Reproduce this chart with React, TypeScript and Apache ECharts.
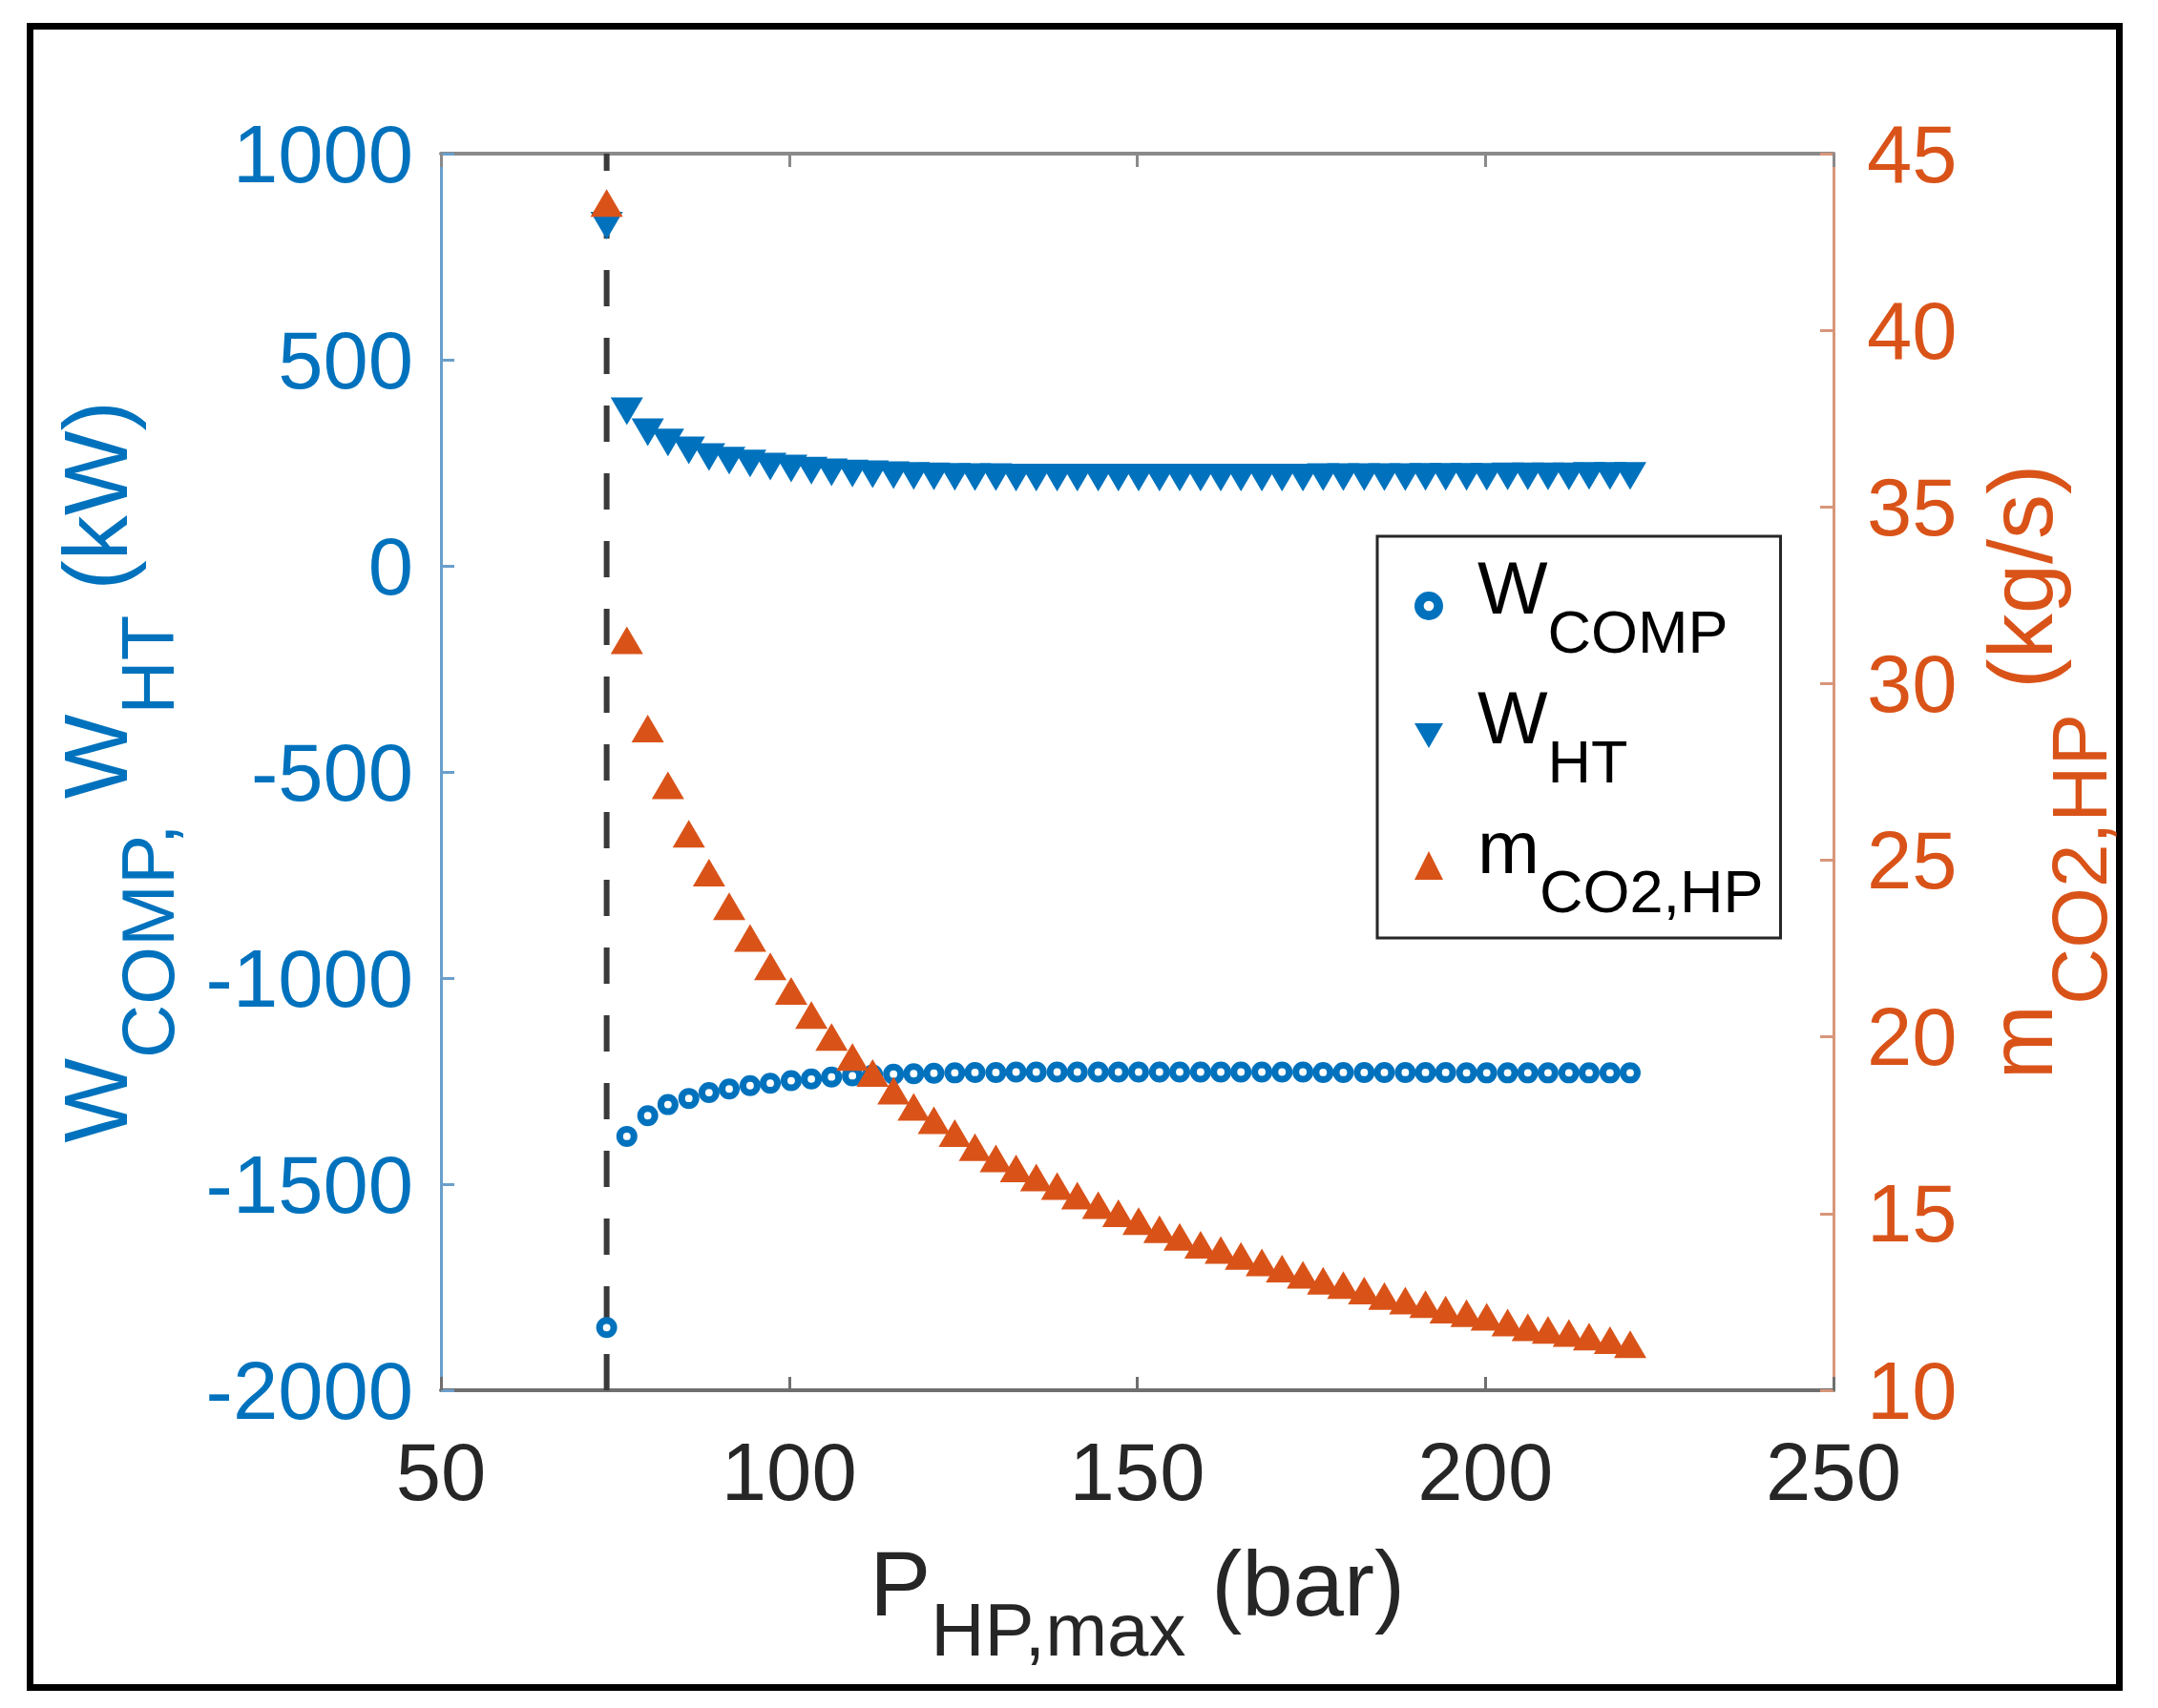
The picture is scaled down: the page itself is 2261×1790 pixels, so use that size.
import React, { useEffect, useRef } from 'react';
import * as echarts from 'echarts';

// 高压侧最大压力 (bar)
const pressure = [
  73.8, 76.7, 79.7, 82.6, 85.6, 88.5, 91.4, 94.4, 97.3, 100.3,
  103.2, 106.1, 109.1, 112.0, 115.0, 117.9, 120.8, 123.8, 126.7, 129.7,
  132.6, 135.5, 138.5, 141.4, 144.4, 147.3, 150.2, 153.2, 156.1, 159.1,
  162.0, 164.9, 167.9, 170.8, 173.8, 176.7, 179.6, 182.6, 185.5, 188.5,
  191.4, 194.3, 197.3, 200.2, 203.2, 206.1, 209.0, 212.0, 214.9, 217.9,
  220.8,
];

// 压缩机功率 (kW)
const wComp = [
  -1848, -1384, -1334, -1307, -1292, -1278, -1269, -1261, -1255, -1249,
  -1245, -1240, -1237, -1235, -1233, -1232, -1231, -1230, -1229, -1229,
  -1228, -1228, -1228, -1228, -1228, -1228, -1228, -1228, -1228, -1228,
  -1228, -1228, -1228, -1228, -1228, -1229, -1229, -1229, -1229, -1229,
  -1229, -1229, -1230, -1230, -1230, -1230, -1230, -1230, -1230, -1230,
  -1230,
];

// 换热功率 (kW)
const wHt = [
  825, 375, 324, 299, 280, 264, 255, 248, 241, 236,
  231, 227, 224, 222, 220, 218, 217, 216, 215, 215,
  214, 214, 214, 214, 214, 214, 214, 214, 214, 214,
  214, 214, 214, 214, 214, 215, 215, 215, 215, 215,
  216, 216, 216, 216, 217, 217, 217, 217, 218, 218,
  218,
];

// CO2 质量流量 (kg/s)
const mCo2 = [
  43.6, 31.23, 28.73, 27.12, 25.75, 24.65, 23.7, 22.8, 22.0, 21.3,
  20.62, 20.0, 19.43, 18.98, 18.48, 18.02, 17.64, 17.28, 16.88, 16.56,
  16.28, 16.02, 15.78, 15.51, 15.24, 15.01, 14.79, 14.56, 14.34, 14.12,
  13.97, 13.8, 13.62, 13.44, 13.27, 13.1, 12.98, 12.82, 12.67, 12.54,
  12.44, 12.28, 12.18, 12.08, 11.92, 11.78, 11.71, 11.62, 11.52, 11.42,
  11.3,
];

// 临界压力
const criticalPressure = 73.8;

const seriesNames = ['W_COMP', 'W_HT', 'm_CO2,HP'];
const legendLabels: Record<string, string> = {
  W_COMP: '{f|W}{s|COMP}',
  W_HT: '{f|W}{s|HT}',
  'm_CO2,HP': '{f|m}{s|CO2,HP}',
};

const BLUE = '#0072BD';
const ORANGE = '#D95319';
const FONT = "'Liberation Sans', Arial, Helvetica, sans-serif";

// 粗圆环标记（外圆顺时针，内圆逆时针形成空心）
const RING =
  'path://M14,0A14,14,0,1,1,14,28A14,14,0,1,1,14,0Z' +
  'M14,9A5,5,0,1,0,14,19A5,5,0,1,0,14,9Z';
const TRIANGLE_DOWN = 'path://M0,0L10,0L5,8.7Z';

const subRich = (main: number, sub: number, pad: number, color: string) => ({
  n: { fontSize: main, fontFamily: FONT, color, verticalAlign: 'bottom', padding: [0, 0, pad, 0] },
  s: { fontSize: sub, fontFamily: FONT, color, verticalAlign: 'bottom' },
});

const plainNumber = (v: number) => String(v);

const App: React.FC = () => {
  const chartRef = useRef<HTMLDivElement>(null);

  useEffect(() => {
    document.body.style.margin = '0';
    if (!chartRef.current) return;
    const chart = echarts.init(chartRef.current, undefined, { renderer: 'svg' });

    const option: any = {
      animation: false,
      backgroundColor: '#fff',
      textStyle: { fontFamily: FONT },
      grid: { left: 462, right: 340, top: 161, bottom: 333 },
      legend: {
        orient: 'vertical',
        left: 1443,
        top: 562,
        padding: [15, 18, 18, 39],
        itemGap: 20,
        itemWidth: 30,
        itemHeight: 30,
        borderColor: '#262626',
        borderWidth: 3,
        backgroundColor: '#fff',
        data: [
          { name: seriesNames[0], icon: RING },
          { name: seriesNames[1], icon: TRIANGLE_DOWN },
          { name: seriesNames[2] },
        ],
        formatter: (name: string) => legendLabels[name],
        textStyle: {
          rich: {
            f: { fontSize: 78, fontFamily: FONT, color: '#000', verticalAlign: 'bottom', padding: [0, 0, 38, 31] },
            s: { fontSize: 63, fontFamily: FONT, color: '#000', verticalAlign: 'bottom' },
          },
        },
      },
      graphic: [
        {
          type: 'rect',
          shape: { x: 31.5, y: 27.5, width: 2189, height: 1741 },
          style: { fill: 'none', stroke: '#000', lineWidth: 7 },
          silent: true,
        },
      ],
      xAxis: [
        {
          type: 'value',
          min: 50,
          max: 250,
          interval: 50,
          position: 'bottom',
          axisLine: { show: true, onZero: false, lineStyle: { color: '#6f6f6f', width: 4 } },
          axisTick: { show: true, inside: true, length: 14, lineStyle: { color: '#6f6f6f', width: 3 } },
          axisLabel: { fontSize: 85, lineHeight: 85, color: '#262626', margin: 43, fontFamily: FONT, formatter: plainNumber },
          splitLine: { show: false },
          name: '{n|P}{s|HP,max}{n| (bar)}',
          nameLocation: 'middle',
          nameGap: 154,
          nameTextStyle: { rich: subRich(96, 78, 40, '#262626') },
        },
        {
          type: 'value',
          min: 50,
          max: 250,
          interval: 50,
          position: 'top',
          axisLine: { show: true, onZero: false, lineStyle: { color: '#8a8a8a', width: 4 } },
          axisTick: { show: true, inside: true, length: 14, lineStyle: { color: '#8a8a8a', width: 3 } },
          axisLabel: { show: false },
          splitLine: { show: false },
        },
      ],
      yAxis: [
        {
          type: 'value',
          min: -2000,
          max: 1000,
          interval: 500,
          position: 'left',
          axisLine: { show: true, onZero: false, lineStyle: { color: '#6a9fcb', width: 3 } },
          axisTick: { show: true, inside: true, length: 14, lineStyle: { color: '#6a9fcb', width: 3 } },
          axisLabel: { fontSize: 85, color: BLUE, margin: 29, fontFamily: FONT, formatter: plainNumber },
          splitLine: { show: false },
          name: '{n|W}{s|COMP,}{n| W}{s|HT}{n| (kW)}',
          nameLocation: 'middle',
          nameRotate: 90,
          nameGap: 268,
          nameTextStyle: { rich: subRich(94, 78, 47, BLUE) },
        },
        {
          type: 'value',
          min: 10,
          max: 45,
          interval: 5,
          position: 'right',
          axisLine: { show: true, onZero: false, lineStyle: { color: '#d8967a', width: 3 } },
          axisTick: { show: true, inside: true, length: 14, lineStyle: { color: '#d8967a', width: 3 } },
          axisLabel: { fontSize: 85, color: ORANGE, margin: 35, fontFamily: FONT, formatter: plainNumber },
          splitLine: { show: false },
          name: '{n|m}{s|CO2,HP}{n| (kg/s)}',
          nameLocation: 'middle',
          nameRotate: 90,
          nameGap: 149,
          nameTextStyle: { rich: subRich(94, 82, 55, ORANGE) },
        },
      ],
      series: [
        {
          name: 'critical',
          type: 'line',
          xAxisIndex: 0,
          yAxisIndex: 0,
          data: [
            [criticalPressure, -2000],
            [criticalPressure, 1000],
          ],
          symbol: 'none',
          silent: true,
          z: 2,
          lineStyle: { color: '#3a3a3a', width: 6, type: [38, 33] },
        },
        {
          name: 'W_COMP',
          type: 'scatter',
          xAxisIndex: 0,
          yAxisIndex: 0,
          data: pressure.map((p, i) => [p, wComp[i]]),
          symbol: RING,
          symbolSize: 22,
          z: 3,
          itemStyle: { color: BLUE, opacity: 1 },
        },
        {
          name: 'W_HT',
          type: 'scatter',
          xAxisIndex: 0,
          yAxisIndex: 0,
          data: pressure.map((p, i) => [p, wHt[i]]),
          symbol: 'triangle',
          symbolRotate: 180,
          symbolSize: [34, 29],
          z: 3,
          itemStyle: { color: BLUE, opacity: 1 },
        },
        {
          name: 'm_CO2,HP',
          type: 'scatter',
          xAxisIndex: 0,
          yAxisIndex: 1,
          data: pressure.map((p, i) => [p, mCo2[i]]),
          symbol: 'triangle',
          symbolSize: [34, 29],
          z: 4,
          itemStyle: { color: ORANGE, opacity: 1 },
        },
      ],
    };

    chart.setOption(option);

    const handleResize = () => chart.resize();
    window.addEventListener('resize', handleResize);
    return () => {
      window.removeEventListener('resize', handleResize);
      chart.dispose();
    };
  }, []);

  return <div ref={chartRef} style={{ width: 2261, height: 1790 }} />;
};

export default App;
